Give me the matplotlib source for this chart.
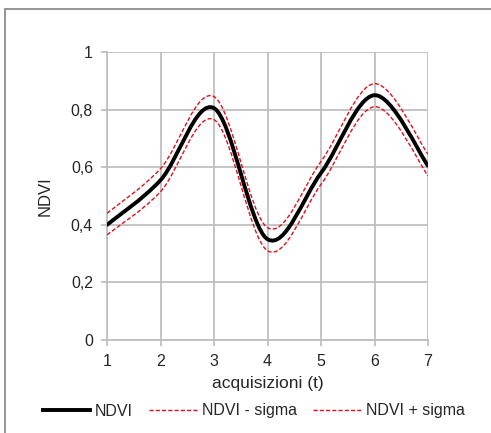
import numpy as np
import matplotlib
matplotlib.use("Agg")
import matplotlib.pyplot as plt
from matplotlib.path import Path
from matplotlib.patches import PathPatch, Rectangle
from matplotlib.lines import Line2D

plt.rcParams['font.family'] = ['Liberation Sans', 'DejaVu Sans']

# --- dati ---
t = [1, 2, 3, 4, 5, 6, 7]
ndvi = [0.40, 0.555, 0.805, 0.35, 0.58, 0.85, 0.605]
ndvi_minus = [0.365, 0.515, 0.765, 0.31, 0.54, 0.81, 0.57]
ndvi_plus = [0.44, 0.595, 0.845, 0.39, 0.62, 0.89, 0.645]
x_ticks = [1, 2, 3, 4, 5, 6, 7]
y_ticks = [0, 0.2, 0.4, 0.6, 0.8, 1.0]
y_tick_labels = ['0', '0,2', '0,4', '0,6', '0,8', '1']


def smooth_path(x, y):
    # curva "smussata" stile Excel (Bezier cubica, tipo Catmull-Rom)
    p = np.column_stack([x, y]).astype(float)
    n = len(p)
    verts = [p[0]]
    codes = [Path.MOVETO]
    for i in range(n - 1):
        p0 = p[i - 1] if i > 0 else p[i]
        p3 = p[i + 2] if i + 2 < n else p[i + 1]
        c1 = p[i] + (p[i + 1] - p0) / 6
        c2 = p[i + 1] - (p3 - p[i]) / 6
        verts += [c1, c2, p[i + 1]]
        codes += [Path.CURVE4] * 3
    return Path(verts, codes)


W, H = 491, 433
fig = plt.figure(figsize=(W / 100, H / 100), dpi=100)
ax = fig.add_axes([107 / W, 1 - 340 / H, (428 - 107) / W, (340 - 52) / H])

# bordo del grafico (solo sopra e a sinistra visibili)
fig.patches.append(Rectangle((5 / W, -0.1), 1.2, 1 - 9.5 / H + 0.1, transform=fig.transFigure,
                             fill=False, edgecolor='#8c8c8c', linewidth=1.3))

red = '#e0101a'
dash = (0, (3, 1.5))
ax.add_patch(PathPatch(smooth_path(t, ndvi_minus), fill=False, edgecolor=red,
                       linewidth=1.0, linestyle=dash, zorder=3))
ax.add_patch(PathPatch(smooth_path(t, ndvi_plus), fill=False, edgecolor=red,
                       linewidth=1.0, linestyle=dash, zorder=3))
ax.add_patch(PathPatch(smooth_path(t, ndvi), fill=False, edgecolor='black',
                       linewidth=2.8, capstyle='round', zorder=4))

ax.set_xlim(1, 7)
ax.set_ylim(0, 1)
ax.set_xticks(x_ticks)
ax.set_yticks(y_ticks)
ax.set_yticklabels(y_tick_labels)
ax.grid(True, color='#bfbfbf', linewidth=1.3)
ax.set_axisbelow(True)
for s in ['top', 'right']:
    ax.spines[s].set_visible(False)
for s in ['left', 'bottom']:
    ax.spines[s].set_color('#bfbfbf')
    ax.spines[s].set_linewidth(1.3)
ax.tick_params(axis='both', colors='#bfbfbf', length=4, width=1.3, labelsize=11.5,
               labelcolor='#262626', pad=6)

ax.set_xlabel('acquisizioni (t)', fontsize=12.5, color='#262626', labelpad=5)
ax.set_ylabel('NDVI', fontsize=12, color='#262626', labelpad=13)

handles = [Line2D([], [], color='black', linewidth=2.8),
           Line2D([], [], color=red, linewidth=1.0, linestyle=dash),
           Line2D([], [], color=red, linewidth=1.0, linestyle=dash)]
fig.legend(handles, ['NDVI', 'NDVI - sigma', 'NDVI + sigma'], loc='center',
           bbox_to_anchor=(0.5 + 8 / W, 1 - 411 / H), ncol=3, frameon=False, fontsize=11.5,
           handlelength=3.0, handletextpad=0.3, columnspacing=1.0,
           labelcolor='#262626')

fig.savefig('out.png', dpi=100)
